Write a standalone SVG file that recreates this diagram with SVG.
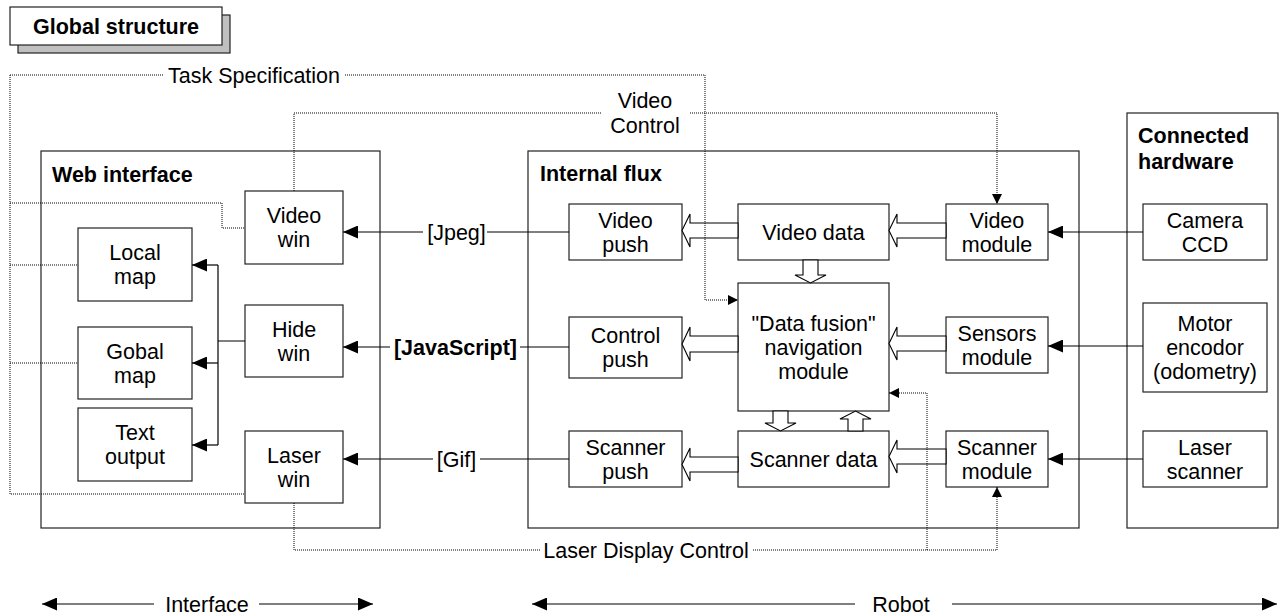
<svg xmlns="http://www.w3.org/2000/svg" width="1281" height="615" viewBox="0 0 1281 615">
<defs>
<marker id="arr" markerUnits="userSpaceOnUse" markerWidth="15" markerHeight="13" refX="15" refY="6.5" orient="auto-start-reverse"><path d="M0,0 L15,6.5 L0,13 z" fill="#000"/></marker>
<marker id="arrs" markerUnits="userSpaceOnUse" markerWidth="10" markerHeight="10" refX="10" refY="5" orient="auto"><path d="M0,0 L10,5 L0,10 z" fill="#000"/></marker>
</defs>
<style>
rect{fill:#fff;stroke:#222;stroke-width:1.2}
.shadow{fill:#c0c0c0}
text{font-family:"Liberation Sans",Arial,sans-serif;font-size:21.5px;fill:#000}
.c{text-anchor:middle}
.b{font-weight:bold}
.ln{fill:none;stroke:#000;stroke-width:1.2}
.dot{fill:none;stroke:#000;stroke-width:1;stroke-dasharray:1 1}
.ha{fill:#fff;stroke:#000;stroke-width:1.1}
</style>
<rect fill="#fff" stroke="none" x="0" y="0" width="1281" height="615" style="stroke:none"/>

<g id="title">
<rect class="shadow" x="18" y="15" width="212" height="38"/>
<rect x="10" y="7" width="212" height="38"/>
<text class="c b" x="116" y="33.5">Global structure</text>
</g>

<g id="web-interface">
<rect x="41" y="151" width="339" height="377"/>
<text class="b" x="52" y="182">Web interface</text>
</g>
<g id="internal-flux">
<rect x="528" y="151" width="551" height="377"/>
<text class="b" x="540" y="181">Internal flux</text>
</g>
<g id="connected-hardware">
<rect x="1127" y="113" width="151" height="415"/>
<text class="b" x="1138" y="143">Connected</text>
<text class="b" x="1138" y="169">hardware</text>
</g>

<g id="video-win"><rect x="245" y="191" width="98" height="73"/><text class="c" x="294" y="223">Video</text><text class="c" x="294" y="247">win</text></g>
<g id="hide-win"><rect x="245" y="305" width="98" height="72"/><text class="c" x="294" y="336.5">Hide</text><text class="c" x="294" y="360.5">win</text></g>
<g id="laser-win"><rect x="245" y="431" width="98" height="72"/><text class="c" x="294" y="462.5">Laser</text><text class="c" x="294" y="486.5">win</text></g>
<g id="local-map"><rect x="78" y="228" width="114" height="73"/><text class="c" x="135" y="260">Local</text><text class="c" x="135" y="284">map</text></g>
<g id="gobal-map"><rect x="78" y="327" width="114" height="72"/><text class="c" x="135" y="358.5">Gobal</text><text class="c" x="135" y="382.5">map</text></g>
<g id="text-output"><rect x="78" y="408" width="114" height="73"/><text class="c" x="135" y="440">Text</text><text class="c" x="135" y="464">output</text></g>

<g id="video-push"><rect x="569" y="204" width="113" height="56"/><text class="c" x="625.5" y="227.5">Video</text><text class="c" x="625.5" y="251.5">push</text></g>
<g id="control-push"><rect x="569" y="317" width="113" height="61"/><text class="c" x="625.5" y="343">Control</text><text class="c" x="625.5" y="367">push</text></g>
<g id="scanner-push"><rect x="569" y="431" width="113" height="56"/><text class="c" x="625.5" y="454.5">Scanner</text><text class="c" x="625.5" y="478.5">push</text></g>
<g id="video-data"><rect x="738" y="204" width="151" height="56"/><text class="c" x="813.5" y="239.5">Video data</text></g>
<g id="data-fusion"><rect x="738" y="283" width="151" height="128"/><text class="c" x="813.5" y="330.5">"Data fusion"</text><text class="c" x="813.5" y="354.5">navigation</text><text class="c" x="813.5" y="378.5">module</text></g>
<g id="scanner-data"><rect x="738" y="431" width="151" height="56"/><text class="c" x="813.5" y="466.5">Scanner data</text></g>
<g id="video-module"><rect x="946" y="204" width="102" height="56"/><text class="c" x="997" y="227.5">Video</text><text class="c" x="997" y="251.5">module</text></g>
<g id="sensors-module"><rect x="946" y="317" width="102" height="56"/><text class="c" x="997" y="340.5">Sensors</text><text class="c" x="997" y="364.5">module</text></g>
<g id="scanner-module"><rect x="946" y="431" width="102" height="56"/><text class="c" x="997" y="454.5">Scanner</text><text class="c" x="997" y="478.5">module</text></g>
<g id="camera-ccd"><rect x="1143" y="204" width="124" height="56"/><text class="c" x="1205" y="227.5">Camera</text><text class="c" x="1205" y="251.5">CCD</text></g>
<g id="motor-encodor"><rect x="1143" y="303" width="124" height="89"/><text class="c" x="1205" y="331">Motor</text><text class="c" x="1205" y="355">encodor</text><text class="c" x="1205" y="379">(odometry)</text></g>
<g id="laser-scanner"><rect x="1143" y="431" width="124" height="56"/><text class="c" x="1205" y="454.5">Laser</text><text class="c" x="1205" y="478.5">scanner</text></g>

<g id="connectors">
<path class="ln" d="M1143,232 H1048" marker-end="url(#arr)"/>
<path class="ln" d="M1143,346 H1048" marker-end="url(#arr)"/>
<path class="ln" d="M1143,459 H1048" marker-end="url(#arr)"/>
<path class="ln" d="M569,232 H487"/>
<path class="ln" d="M423,232 H343" marker-end="url(#arr)"/>
<text class="c" x="456.5" y="239.5">[Jpeg]</text>
<path class="ln" d="M569,347 H520"/>
<path class="ln" d="M390,347 H343" marker-end="url(#arr)"/>
<text class="c b" x="455.5" y="354.5">[JavaScript]</text>
<path class="ln" d="M569,459 H480"/>
<path class="ln" d="M433,459 H343" marker-end="url(#arr)"/>
<text class="c" x="456.5" y="466.5">[Gif]</text>
<path class="ln" d="M245,341 H218 M218,265 V445"/>
<path class="ln" d="M218,265 H192" marker-end="url(#arr)"/>
<path class="ln" d="M218,363 H192" marker-end="url(#arr)"/>
<path class="ln" d="M218,445 H192" marker-end="url(#arr)"/>

<polygon class="ha" points="738,223 690,223 690,214 682,230.5 690,247 690,238 738,238"/>
<polygon class="ha" points="946,223 897,223 897,214 889,230.5 897,247 897,238 946,238"/>
<polygon class="ha" points="738,336 690,336 690,327 682,344 690,361 690,352 738,352"/>
<polygon class="ha" points="946,336 897,336 897,327 889,343.5 897,360 897,351 946,351"/>
<polygon class="ha" points="738,457 690,457 690,448 682,464.5 690,481 690,472 738,472"/>
<polygon class="ha" points="946,449 897,449 897,440 889,456.5 897,473 897,464 946,464"/>
<polygon class="ha" points="803,260 803,275 795,275 810.5,283 826,275 818,275 818,260"/>
<polygon class="ha" points="773,411 773,423 765,423 780.5,431 796,423 788,423 788,411"/>
<polygon class="ha" points="848,431 848,419 840,419 855.5,411 871,419 863,419 863,431"/>

<path class="dot" d="M10,75 H163 M345,75 H705 V300 H738" marker-end="url(#arrs)"/>
<text class="c" x="254" y="82.5">Task Specification</text>
<path class="dot" d="M10,75 V494 H245 M10,203 H222 V228 H245 M10,265 H78 M10,363 H78"/>
<path class="dot" d="M294,191 V113 H602 M690,113 H997 V204" marker-end="url(#arrs)"/>
<text class="c" x="645" y="107.5">Video</text>
<text class="c" x="645" y="132.5">Control</text>
<path class="dot" d="M294,503 V550 H540 M753,550 H997 V487" marker-end="url(#arrs)"/>
<path class="dot" d="M927,550 V393 H889" marker-end="url(#arrs)"/>
<text class="c" x="646" y="557.5">Laser Display Control</text>

<path class="ln" d="M42,604 H154" marker-start="url(#arr)"/>
<path class="ln" d="M259,604 H373" marker-end="url(#arr)"/>
<text class="c" x="207" y="611.5">Interface</text>
<path class="ln" d="M532,604 H855" marker-start="url(#arr)"/>
<path class="ln" d="M952,604 H1277" marker-end="url(#arr)"/>
<text class="c" x="901" y="611.5">Robot</text>
</g>
</svg>
